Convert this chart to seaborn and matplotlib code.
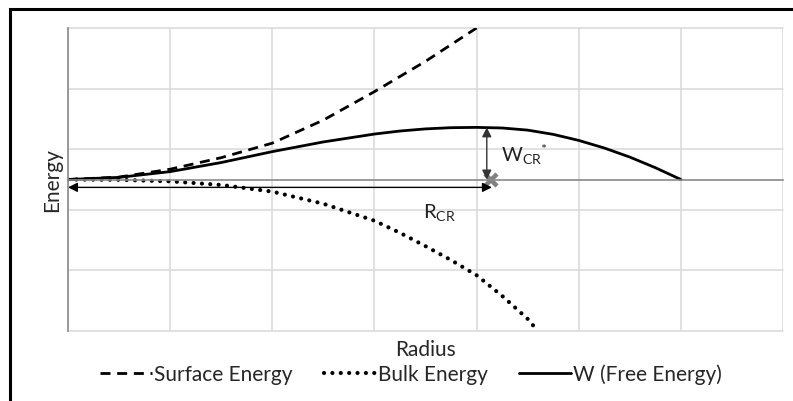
import matplotlib
matplotlib.use("Agg")
import matplotlib.pyplot as plt
import matplotlib.patches as mpatches
import seaborn as sns
import pandas as pd

# ---- data ----
radius_surface = [0, 0.5, 1, 1.5, 2, 2.5, 3, 3.5, 4]
surface_energy = [0, 0.04, 0.17, 0.36, 0.6, 0.98, 1.45, 1.95, 2.5]

radius_bulk = [0, 0.5, 1, 1.5, 2, 2.5, 3, 3.25, 3.5, 3.75, 4, 4.25, 4.5, 4.6]
bulk_energy = [0, -0.005, -0.03, -0.09, -0.2, -0.4, -0.68, -0.88, -1.1, -1.33, -1.58, -1.92, -2.3, -2.5]

radius_w = [0, 0.5, 1, 1.5, 2, 2.5, 3, 3.25, 3.5, 3.75, 4, 4.25, 4.5, 4.75, 5, 5.25, 5.5, 5.75, 6]
free_energy = [0, 0.035, 0.13, 0.28, 0.46, 0.62, 0.75, 0.8, 0.835, 0.855, 0.86, 0.85, 0.815,
               0.745, 0.645, 0.52, 0.37, 0.195, 0]

series_names = ["Surface Energy", "Bulk Energy", "W (Free Energy)"]

r_critical = 4.1
w_critical = 0.86
r_arrow_level = -0.13
x_ticks = [0, 1, 2, 3, 4, 5, 6, 7]
y_grid = [-2.5, -1.5, -0.5, 0.5, 1.5, 2.5]

df = pd.concat([
    pd.DataFrame({"Radius": radius_surface, "Energy": surface_energy, "Series": series_names[0]}),
    pd.DataFrame({"Radius": radius_bulk, "Energy": bulk_energy, "Series": series_names[1]}),
    pd.DataFrame({"Radius": radius_w, "Energy": free_energy, "Series": series_names[2]}),
], ignore_index=True)

sns.set_style("white")
plt.rcParams["font.family"] = ["Lato", "DejaVu Sans"]
plt.rcParams["mathtext.fontset"] = "custom"
plt.rcParams["mathtext.rm"] = "Liberation Sans"
plt.rcParams["mathtext.it"] = "Liberation Sans"

fig = plt.figure(figsize=(7.93, 4.02), dpi=100)
ax = fig.add_axes([68 / 793, 1 - 332 / 402, (783 - 68) / 793, (332 - 29) / 402])

sns.lineplot(data=df, x="Radius", y="Energy", hue="Series", style="Series",
             palette=["black", "black", "black"], sort=False, ax=ax, legend=False,
             dashes=False, estimator=None)

styles = [(0, (3.6, 2.4)), (0, (0.01, 2.0)), "-"]
widths = [2.0, 3.0, 2.0]
for line, ls, lw in zip(ax.get_lines()[:3], styles, widths):
    line.set_linestyle(ls)
    line.set_linewidth(lw)
    line.set_dash_capstyle("round" if ls == styles[1] else "butt")
    line.set_solid_joinstyle("round")

ax.set_xlim(0, 7)
ax.set_ylim(-2.5, 2.5)
ax.set_xticks(x_ticks)
ax.set_yticks(y_grid)
ax.set_xticklabels([])
ax.set_yticklabels([])
ax.grid(True, color="#d9d9d9", lw=1.1)
for gl in ax.get_xgridlines() + ax.get_ygridlines():
    gl.set_clip_on(False)
ax.set_axisbelow(True)

ax.spines["bottom"].set_position(("data", 0))
ax.spines["bottom"].set_color("#8a8a8a")
ax.spines["bottom"].set_linewidth(1.2)
ax.spines["left"].set_color("#8a8a8a")
ax.spines["left"].set_linewidth(1.2)
ax.spines["top"].set_visible(False)
ax.spines["right"].set_visible(False)
ax.tick_params(axis="x", direction="inout", length=11, width=1.0, color="#8a8a8a")
ax.tick_params(axis="y", length=0)

ax.set_xlabel("")
ax.set_ylabel("")
fig.text((68 + 783) / 2 / 793, 1 - 350 / 402, "Radius", ha="center", va="center", fontsize=15)
fig.text(52 / 793, 1 - 180.5 / 402, "Energy", ha="center", va="center", rotation=90, fontsize=15)

# critical radius arrow
ax.annotate("", xy=(0, r_arrow_level), xytext=(r_critical + 0.05, r_arrow_level),
            arrowprops=dict(arrowstyle="<|-|>", color="black", lw=1.0, mutation_scale=14,
                            shrinkA=0, shrinkB=0))
ax.text(3.64, -0.52, r"$\mathregular{R_{CR}}$", fontsize=14.5, ha="center", va="center", color="#222222")

# critical energy arrow
ax.annotate("", xy=(r_critical, w_critical), xytext=(r_critical, 0),
            arrowprops=dict(arrowstyle="<|-|>", color="#333333", lw=1.0, mutation_scale=14,
                            shrinkA=0, shrinkB=0))
ax.text(4.24, 0.42, r"$\mathregular{W_{CR}{}^{*}}$", fontsize=14.5, ha="left", va="center", color="#222222")
ax.plot([r_critical + 0.04], [0], marker="x", color="#808080", ms=8, mew=3.2)

# legend
handles = [plt.Line2D([], [], color="black", lw=2.0, linestyle=styles[0]),
           plt.Line2D([], [], color="black", lw=3.0, linestyle=styles[1], dash_capstyle="round"),
           plt.Line2D([], [], color="black", lw=2.0, linestyle="-")]
fig.legend(handles, series_names, loc="center", bbox_to_anchor=(411 / 793, 1 - 375 / 402),
           ncol=3, frameon=False, fontsize=15, handlelength=2.5, handletextpad=0.1,
           columnspacing=1.5)

# outer frame
fig.patches.append(mpatches.Rectangle((9.5 / 793, -0.1), 1.2, 1.1 - 9.5 / 402, fill=False,
                                      lw=2.2, edgecolor="black", transform=fig.transFigure,
                                      figure=fig))

fig.savefig("out.png", dpi=100)
